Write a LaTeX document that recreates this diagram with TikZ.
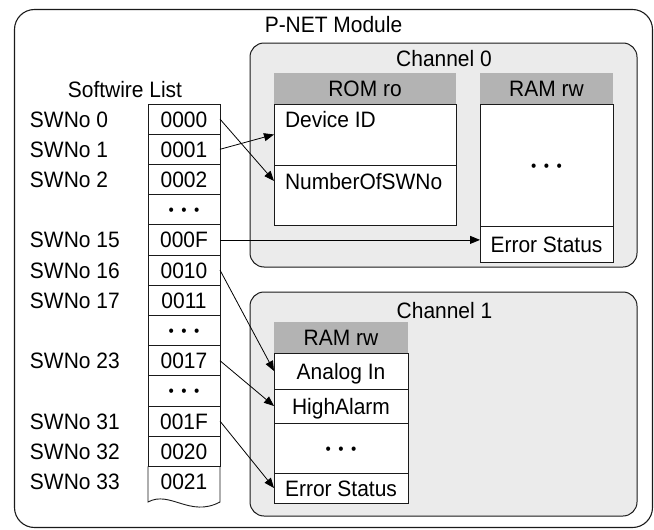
\documentclass[tikz,border=0pt]{standalone}
\usepackage{fontspec}
\setmainfont[FakeStretch=0.94]{Liberation Sans}
\usetikzlibrary{arrows.meta,calc}
\definecolor{chgray}{HTML}{EBEBEB}
\definecolor{hdgray}{HTML}{B3B3B3}
\definecolor{edge}{HTML}{1A1A1A}
\newcommand\bulletrow{{\fontsize{16}{16}\selectfont •\hspace{7.5pt}•\hspace{7.5pt}•}}
\begin{document}
\begin{tikzpicture}[x=1pt,y=-1pt,
  every node/.style={font=\fontsize{22.3}{26}\selectfont, inner sep=0pt, outer sep=0pt},
  module/.style={draw=edge, line width=1.1pt, rounded corners=20pt},
  channel/.style={draw=edge, fill=chgray, line width=1pt, rounded corners=14pt, rectangle},
  cell/.style={draw=edge, fill=white, line width=0.9pt, rectangle, text height=16pt, text depth=0pt},
  head/.style={fill=hdgray, rectangle, text height=16pt, text depth=0pt},
  dotcell/.style={cell, text height=12pt},
  lbl/.style={anchor=west, text height=16pt, text depth=0pt},
  title/.style={anchor=base},
  arr/.style={draw=black, line width=0.8pt, -{Triangle[length=10pt,width=8pt]}}
]
\useasboundingbox (0,0) rectangle (654,530);

% module frame and title
\draw[module] (14.5,9.5) rectangle (652.5,527.5);
\node[title] (modtitle) at (333.5,32) {P-NET Module};

% channel frames
\node[channel, minimum width=387pt, minimum height=224pt] (ch0) at (443.5,155) {};
\node[title] (ch0title) at (444,66) {Channel 0};
\node[channel, minimum width=387pt, minimum height=224pt] (ch1) at (443.5,404) {};
\node[title] (ch1title) at (444.5,318) {Channel 1};

% Channel 0: ROM table
\node[head, minimum width=182pt, minimum height=31pt] (romhd) at (365,88.5) {ROM ro};
\node[cell, minimum width=182pt, minimum height=61pt] (romdev) at (365,134.5) {};
\node[cell, minimum width=182pt, minimum height=60pt] (romnum) at (365,195) {};
\node[lbl] (devtxt) at (285,119) {Device ID};
\node[lbl] (numtxt) at (285,181) {NumberOfSWNo};

% Channel 0: RAM table
\node[head, minimum width=133pt, minimum height=31pt] (ram0hd) at (546.5,88.5) {RAM rw};
\node[dotcell, minimum width=133pt, minimum height=122pt] (ram0dots) at (546.5,165) {\bulletrow};
\node[cell, minimum width=133pt, minimum height=36pt] (ram0err) at (546.5,244) {Error Status};

% Channel 1: RAM table
\node[head, minimum width=134pt, minimum height=31pt] (ram1hd) at (341,337.5) {RAM rw};
\node[cell, minimum width=134pt, minimum height=36pt] (anin) at (341,371) {Analog In};
\node[cell, minimum width=134pt, minimum height=34pt] (hial) at (341,406) {HighAlarm};
\node[dotcell, minimum width=134pt, minimum height=50pt] (ram1dots) at (341,448) {\bulletrow};
\node[cell, minimum width=134pt, minimum height=30pt] (ram1err) at (341,488) {Error Status};

% Softwire list
\node[title] (swtitle) at (125,97) {Softwire List};
\foreach \i/\t in {0/0000,1/0001,2/0002,4/000F,5/0010,6/0011,8/0017,10/001F,11/0020}
  \node[cell, minimum width=72pt, minimum height=30.2pt] (sw\i) at (184,119.1+30.2*\i) {\t};
\foreach \i in {3,7,9}
  \node[dotcell, minimum width=72pt, minimum height=30.2pt] (sw\i) at (184,119.1+30.2*\i) {\bulletrow};
\node[rectangle, minimum width=72pt, minimum height=30.2pt, text height=16pt, text depth=0pt] (sw12) at (184,481.5) {0021};
\coordinate (wl) at (148,502);
\coordinate (wr) at (220,502);
\draw[edge, line width=0.9pt] (sw12.north west) -- (wl) .. controls (170,490) and (190,518) .. (wr) -- (sw12.north east);

% SWNo labels
\foreach \i/\n in {0/0,1/1,2/2,4/15,5/16,6/17,8/23,10/31,11/32,12/33}
  \node[lbl] (no\i) at (30,119.1+30.2*\i) {SWNo \n};

% mappings
\draw[arr] (sw0.east) -- (romnum.west |- numtxt.west);
\draw[arr] (sw1.east) -- (romdev.west);
\draw[arr] (sw4.east) -- (sw4.east -| ram0err.west);
\draw[arr] (sw5.east) -- (anin.west);
\draw[arr] (sw8.east) -- (hial.west);
\draw[arr] (sw10.east) -- (ram1err.west);
\end{tikzpicture}
\end{document}
